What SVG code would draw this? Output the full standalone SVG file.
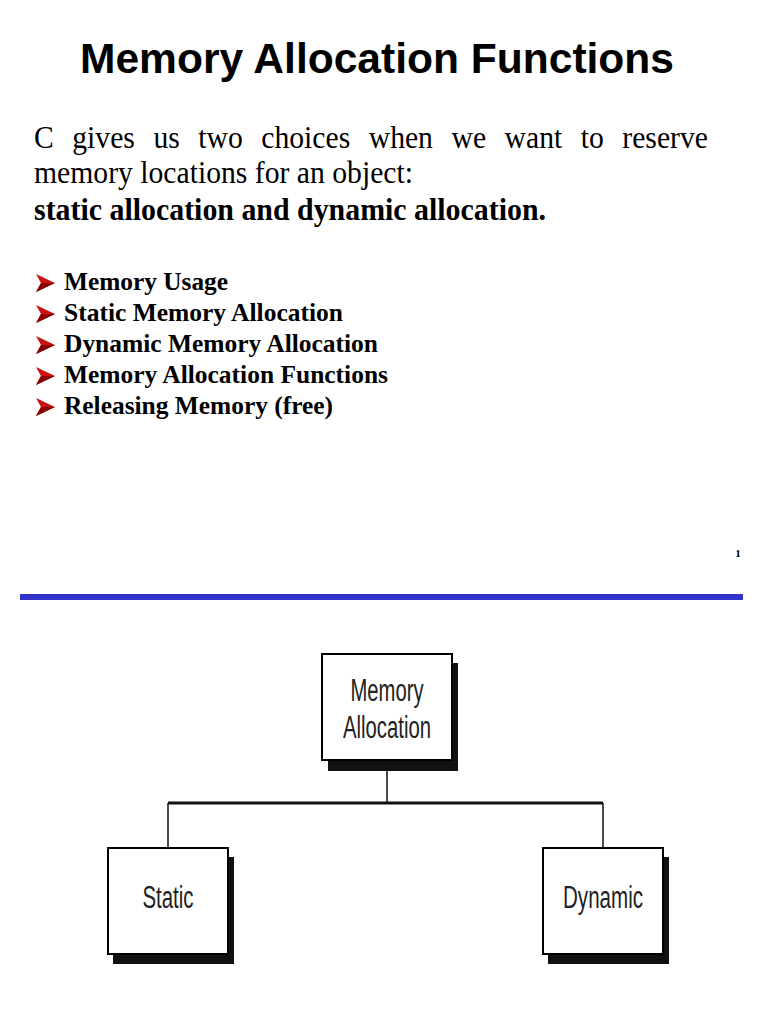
<svg xmlns="http://www.w3.org/2000/svg" width="768" height="1024" viewBox="0 0 768 1024">
<style>
.title{font-family:"Liberation Sans",Arial,sans-serif;font-weight:bold;font-size:43px;fill:#000}
.body{font-family:"Liberation Serif","Times New Roman",serif;font-size:31px;fill:#000}
.bold{font-weight:bold}
.bullet{font-family:"Liberation Serif","Times New Roman",serif;font-weight:bold;font-size:26px;fill:#000}
.lbl{font-family:"Liberation Sans",Arial,sans-serif;font-size:31px;fill:#222;text-anchor:middle}
.box{fill:#fff;stroke:#000;stroke-width:2}
.shadow{fill:#111}
.conn{fill:none;stroke:#111;stroke-width:1.5}
.bar{fill:none;stroke:#111;stroke-width:3}
</style>
<defs>
<g id="arrow">
<polygon points="0,-9 19,0 0,9 5,0" fill="#cc1111"/>
<polygon points="0,9 19,0 5,0" fill="#880000"/>
</g>
</defs>
<rect width="768" height="1024" fill="#fff"/>
<text class="title" x="377" y="73" text-anchor="middle" textLength="594" lengthAdjust="spacingAndGlyphs">Memory Allocation Functions</text>
<text class="body" transform="translate(34,148) scale(0.957,1)" x="0" y="0" word-spacing="11.6">C gives us two choices when we want to reserve</text>
<text class="body" x="34" y="183" textLength="379" lengthAdjust="spacingAndGlyphs">memory locations for an object:</text>
<text class="body bold" x="34" y="220" textLength="512" lengthAdjust="spacingAndGlyphs">static allocation and dynamic allocation.</text>
<g id="bullets">
<use href="#arrow" x="36" y="283"/>
<text class="bullet" x="64" y="290" textLength="164" lengthAdjust="spacingAndGlyphs">Memory Usage</text>
<use href="#arrow" x="36" y="314"/>
<text class="bullet" x="64" y="321" textLength="279" lengthAdjust="spacingAndGlyphs">Static Memory Allocation</text>
<use href="#arrow" x="36" y="345"/>
<text class="bullet" x="64" y="352" textLength="314" lengthAdjust="spacingAndGlyphs">Dynamic Memory Allocation</text>
<use href="#arrow" x="36" y="376"/>
<text class="bullet" x="64" y="383" textLength="324" lengthAdjust="spacingAndGlyphs">Memory Allocation Functions</text>
<use href="#arrow" x="36" y="407"/>
<text class="bullet" x="64" y="414" textLength="269" lengthAdjust="spacingAndGlyphs">Releasing Memory (free)</text>
</g>
<text x="738" y="557" font-family="Liberation Serif,serif" font-weight="bold" font-size="11" text-anchor="middle">1</text>
<rect x="20" y="594" width="723" height="6" fill="#3333cc"/>
<g id="connectors">
<line class="conn" x1="387" y1="771" x2="387" y2="803"/>
<line class="bar" x1="168" y1="803" x2="603" y2="803"/>
<line class="conn" x1="168" y1="803" x2="168" y2="848"/>
<line class="conn" x1="603" y1="803" x2="603" y2="848"/>
</g>
<g id="node-memory-allocation">
<rect class="shadow" x="328" y="663" width="130" height="108"/>
<rect class="box" x="322" y="654" width="130" height="106"/>
<text class="lbl" x="387" y="701" textLength="73" lengthAdjust="spacingAndGlyphs">Memory</text>
<text class="lbl" x="387" y="738" textLength="88" lengthAdjust="spacingAndGlyphs">Allocation</text>
</g>
<g id="node-static">
<rect class="shadow" x="113" y="857" width="121" height="107"/>
<rect class="box" x="108" y="848" width="120" height="106"/>
<text class="lbl" x="168" y="908" textLength="51" lengthAdjust="spacingAndGlyphs">Static</text>
</g>
<g id="node-dynamic">
<rect class="shadow" x="548" y="857" width="121" height="107"/>
<rect class="box" x="543" y="848" width="120" height="106"/>
<text class="lbl" x="603" y="908" textLength="80" lengthAdjust="spacingAndGlyphs">Dynamic</text>
</g>
</svg>
